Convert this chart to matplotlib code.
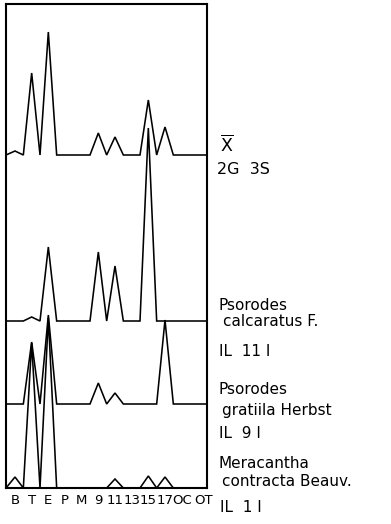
import matplotlib
matplotlib.use("Agg")
import matplotlib.pyplot as plt
from matplotlib.transforms import ScaledTranslation
import numpy as np

plt.rcParams["font.family"] = ["DejaVu Sans"]
plt.rcParams["mathtext.fontset"] = "dejavusans"

stages = ["B", "T", "E", "P", "M", "9", "11", "13", "15", "17", "OC", "OT"]

# peak heights above each profile's own baseline
mean_2g3s = [4, 82, 123, 0, 0, 22, 18, 0, 55, 28, 0, 0]
calcaratus = [0, 4, 74, 0, 0, 69, 55, 0, 193, 0, 0, 0]
gratiila = [0, 62, 89, 0, 0, 21, 11, 0, 0, 84, 0, 0]
contracta = [11, 145, 170, 0, 0, 0, 9, 0, 12, 11, 0, 0]

# vertical offsets of the stacked profiles
baselines = [333, 167, 84, 0]

x_left, x_right = -0.54, 11.52


def profile(peaks, base):
    xs = [x_left]
    ys = [base]
    for i, h in enumerate(peaks):
        xs += [i, i + 0.5]
        ys += [base + h, base]
    xs[-1] = x_right
    return xs, ys


fig = plt.figure(figsize=(3.91, 5.24), dpi=100)
ax = fig.add_axes([6 / 391, 1 - 488 / 524, 201 / 391, 484.5 / 524])

for peaks, base in zip([mean_2g3s, calcaratus, gratiila, contracta], baselines):
    xs, ys = profile(peaks, base)
    ax.plot(xs, ys, color="black", lw=1.15, solid_joinstyle="miter")

ax.set_xlim(x_left, x_right)
ax.set_ylim(0, 484.5)
for s in ax.spines.values():
    s.set_linewidth(1.5)
ax.set_yticks([])
ax.set_xticks(range(len(stages)))
ax.set_xticklabels(stages, fontsize=9.5)
ax.tick_params(axis="x", length=0, pad=4)
last = ax.get_xticklabels()[-1]
last.set_transform(last.get_transform() + ScaledTranslation(3.5 / 72, 0, fig.dpi_scale_trans))


def label(x, y, s, size=11):
    fig.text(x / 391, 1 - y / 524, s, ha="left", va="center", fontsize=size)


label(220, 145, r"$\overline{\mathrm{X}}$", 12.5)
label(217, 170, "2G  3S", 11.5)
label(219, 305, "Psorodes")
label(223, 322, "calcaratus F.")
label(219, 352, "IL  11 I")
label(219, 389, "Psorodes")
label(222, 410, "gratiila Herbst")
label(219, 433, "IL  9 I")
label(219, 464, "Meracantha")
label(222, 482, "contracta Beauv.")
label(220, 507, "IL  1 I")

fig.savefig("out.png", dpi=100)
